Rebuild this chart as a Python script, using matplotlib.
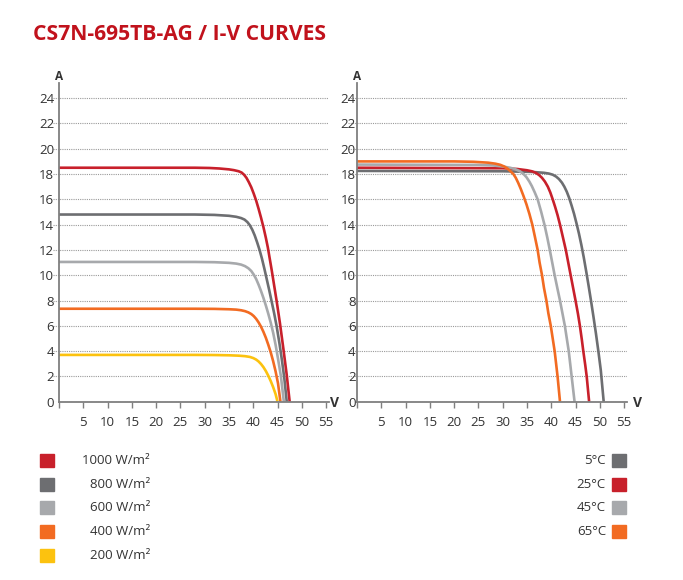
import matplotlib
matplotlib.use("Agg")
import matplotlib.pyplot as plt
from matplotlib.patches import Rectangle

plt.rcParams['font.family'] = ['Open Sans', 'DejaVu Sans']

# ---- irradiance curves (left panel) ----
irr_labels = ['1000 W/m²', '800 W/m²', '600 W/m²', '400 W/m²', '200 W/m²']
irr_colors = ['#c8202b', '#6d6e71', '#a7a9ac', '#f26b22', '#fcc20f']

v_1000 = [0, 28, 31, 33, 35, 36, 37, 37.6, 38.1, 38.6, 39.1, 39.6, 40.1, 40.6, 41.1, 41.6,
          42.1, 42.6, 43.0, 43.4, 43.8, 44.3, 44.8, 45.5, 46.2, 46.9, 47.5]
i_1000 = [18.5, 18.5, 18.48, 18.44, 18.37, 18.31, 18.22, 18.12, 17.95, 17.7, 17.35, 16.95, 16.45,
          15.9, 15.25, 14.55, 13.8, 12.95, 12.2, 11.3, 10.4, 9.2, 8.0, 6.2, 4.2, 2.1, 0]

v_800 = [0, 28, 32, 35, 36.5, 37.5, 38.2, 38.8, 39.3, 39.8, 40.3, 40.8, 41.3, 41.8, 42.3, 42.8,
         43.3, 43.8, 44.3, 44.8, 45.4, 45.9, 46.4, 46.9]
i_800 = [14.8, 14.8, 14.77, 14.7, 14.62, 14.52, 14.4, 14.2, 13.95, 13.6, 13.15, 12.6, 12.0, 11.3,
         10.5, 9.65, 8.8, 7.9, 7.0, 6.0, 4.6, 3.3, 1.85, 0]

v_600 = [0, 28, 32, 35, 36.5, 37.5, 38.3, 39.0, 39.6, 40.1, 40.6, 41.1, 41.6, 42.1, 42.6, 43.1,
         43.6, 44.1, 44.6, 45.1, 45.7, 46.3]
i_600 = [11.05, 11.05, 11.03, 10.98, 10.92, 10.84, 10.72, 10.55, 10.33, 10.05, 9.7, 9.25, 8.75,
         8.2, 7.6, 6.95, 6.25, 5.45, 4.5, 3.4, 2.0, 0]

v_400 = [0, 28, 32, 35, 36.5, 37.5, 38.3, 39.0, 39.6, 40.1, 40.6, 41.1, 41.6, 42.1, 42.6, 43.1,
         43.6, 44.1, 44.6, 45.1, 45.6]
i_400 = [7.35, 7.35, 7.34, 7.31, 7.28, 7.23, 7.16, 7.06, 6.93, 6.77, 6.55, 6.27, 5.93, 5.52, 5.05,
         4.5, 3.9, 3.2, 2.4, 1.45, 0]

v_200 = [0, 28, 32, 35, 37, 38.3, 39.3, 40.0, 40.6, 41.1, 41.6, 42.1, 42.6, 43.1, 43.6, 44.1,
         44.6, 45.0]
i_200 = [3.7, 3.7, 3.69, 3.67, 3.64, 3.6, 3.54, 3.45, 3.33, 3.18, 2.98, 2.73, 2.42, 2.05, 1.63,
         1.15, 0.6, 0]

irr_v = [v_1000, v_800, v_600, v_400, v_200]
irr_i = [i_1000, i_800, i_600, i_400, i_200]

# ---- temperature curves (right panel) ----
temp_labels = ['5°C', '25°C', '45°C', '65°C']
temp_colors = ['#6d6e71', '#c8202b', '#a7a9ac', '#f26b22']

v_5 = [0, 30, 36, 38.5, 39.5, 40.3, 41.0, 41.6, 42.2, 42.7, 43.2, 43.7, 44.2, 44.7, 45.2, 45.7,
       46.2, 46.7, 47.2, 47.7, 48.2, 48.7, 49.2, 49.7, 50.2, 50.8]
i_5 = [18.25, 18.22, 18.17, 18.1, 18.04, 17.95, 17.8, 17.6, 17.32, 17.0, 16.6, 16.1, 15.5, 14.85,
       14.1, 13.3, 12.4, 11.4, 10.3, 9.15, 7.95, 6.7, 5.4, 4.0, 2.5, 0]

v_25 = [0, 30, 33, 35, 36, 36.8, 37.5, 38.1, 38.7, 39.3, 39.8, 40.3, 40.8, 41.3, 41.8, 42.4,
        43.0, 43.5, 44.0, 44.5, 45.0, 45.5, 45.9, 46.3, 46.6, 47.0, 47.3, 47.8]
i_25 = [18.5, 18.46, 18.4, 18.3, 18.22, 18.1, 17.92, 17.7, 17.4, 17.0, 16.55, 16.0, 15.4, 14.75,
        14.0, 13.0, 12.0, 11.0, 10.0, 9.0, 8.0, 6.95, 6.0, 4.9, 4.0, 2.9, 2.0, 0]

v_45 = [0, 25, 28, 30, 31.5, 32.5, 33.5, 34.3, 34.9, 35.5, 36.0, 36.6, 37.2, 37.9, 38.6, 39.2,
        39.7, 40.2, 40.7, 41.3, 41.8, 42.3, 42.8, 43.2, 43.6, 43.9, 44.2, 44.8]
i_45 = [18.75, 18.72, 18.68, 18.6, 18.5, 18.4, 18.23, 18.0, 17.75, 17.4, 17.05, 16.55, 16.0, 15.05,
        14.0, 12.95, 12.0, 11.0, 10.0, 8.9, 8.0, 7.0, 6.0, 5.0, 4.0, 3.0, 2.0, 0]

v_65 = [0, 20, 24, 27, 28.5, 29.5, 30.3, 31.0, 31.6, 32.2, 32.7, 33.2, 33.7, 34.3, 34.9, 35.5,
        36.1, 36.6, 37.2, 37.6, 38.1, 38.5, 39.0, 39.4, 39.9, 40.3, 40.7, 41.0, 41.3, 41.8]
i_65 = [19.0, 19.0, 18.97, 18.9, 18.82, 18.73, 18.6, 18.43, 18.22, 18.0, 17.7, 17.3, 16.85, 16.25,
        15.6, 14.85, 14.0, 13.1, 12.0, 11.0, 10.0, 9.0, 8.0, 7.0, 6.0, 5.0, 4.0, 3.0, 2.0, 0]

temp_v = [v_5, v_25, v_45, v_65]
temp_i = [i_5, i_25, i_45, i_65]

x_ticks = [0, 5, 10, 15, 20, 25, 30, 35, 40, 45, 50, 55]
y_ticks = [0, 2, 4, 6, 8, 10, 12, 14, 16, 18, 20, 22, 24]

W, H = 683, 580
fig = plt.figure(figsize=(W / 100, H / 100), dpi=100)

axis_col = '#7f7f7f'
txt_col = '#333333'


def style_axes(ax, xmin, ypad):
    ax.set_xlim(xmin, 55.6)
    ax.set_ylim(0, 25.2)
    for s in ['top', 'right']:
        ax.spines[s].set_visible(False)
    ax.spines['left'].set_position(('data', 0))
    ax.spines['bottom'].set_bounds(0, 55.6)
    for s in ['left', 'bottom']:
        ax.spines[s].set_color(axis_col)
        ax.spines[s].set_linewidth(1.3)
    ax.set_xticks(x_ticks)
    ax.set_xticklabels([''] + [str(t) for t in x_ticks[1:]])
    ax.set_yticks(y_ticks)
    ax.tick_params(axis='x', length=4, width=1, color=axis_col, labelsize=9.5,
                   labelcolor=txt_col, pad=6)
    ax.tick_params(axis='y', length=0, labelsize=9.5, labelcolor=txt_col, pad=ypad)
    ax.grid(axis='y', linestyle=(0, (1, 1)), color='#9a9a9a', linewidth=0.8)
    ax.set_axisbelow(True)
    ax.patch.set_alpha(0)


# left panel: irradiance
axL = fig.add_axes([53.2 / W, (H - 401.7) / H, 275.8 / W, 318.7 / H])
style_axes(axL, -1.2, 3.5)
for k in range(len(irr_v) - 1, -1, -1):
    axL.plot(irr_v[k], irr_i[k], color=irr_colors[k], lw=1.9, clip_on=False,
             solid_capstyle='butt', solid_joinstyle='round')

# right panel: temperature
axR = fig.add_axes([347.8 / W, (H - 401.7) / H, 279.2 / W, 318.7 / H])
style_axes(axR, -1.9, 1.0)
for k in range(len(temp_v)):
    axR.plot(temp_v[k], temp_i[k], color=temp_colors[k], lw=1.9, clip_on=False,
             solid_capstyle='butt', solid_joinstyle='round')

# axis unit labels
for ax in (axL, axR):
    ax.text(0, 1.0, 'A', transform=ax.get_xaxis_transform(), ha='center', va='bottom',
            fontsize=8.5, fontweight='bold', color=txt_col)
fig.text(334 / W, 1 - 403 / H, 'V', ha='center', va='center', fontsize=10,
         fontweight='bold', color=txt_col)
fig.text(637.5 / W, 1 - 403 / H, 'V', ha='center', va='center', fontsize=10,
         fontweight='bold', color=txt_col)

# title
fig.text(33 / W, 1 - 35 / H, 'CS7N-695TB-AG / I-V CURVES', ha='left', va='center',
         fontsize=15.2, fontweight='bold', color='#c1121c')

# legends
row_y = [460, 484, 507.7, 531.5, 555.3]
for k, lab in enumerate(irr_labels):
    y = row_y[k]
    fig.patches.append(Rectangle((40 / W, 1 - (y + 6.5) / H), 14 / W, 13 / H,
                                 transform=fig.transFigure, color=irr_colors[k]))
    fig.text(150 / W, 1 - y / H, lab, ha='right', va='center', fontsize=9.5, color=txt_col)

for k, lab in enumerate(temp_labels):
    y = row_y[k]
    fig.patches.append(Rectangle((612 / W, 1 - (y + 6.5) / H), 14 / W, 13 / H,
                                 transform=fig.transFigure, color=temp_colors[k]))
    fig.text(606 / W, 1 - y / H, lab, ha='right', va='center', fontsize=9.5, color=txt_col)

fig.savefig('out.png', dpi=100)
